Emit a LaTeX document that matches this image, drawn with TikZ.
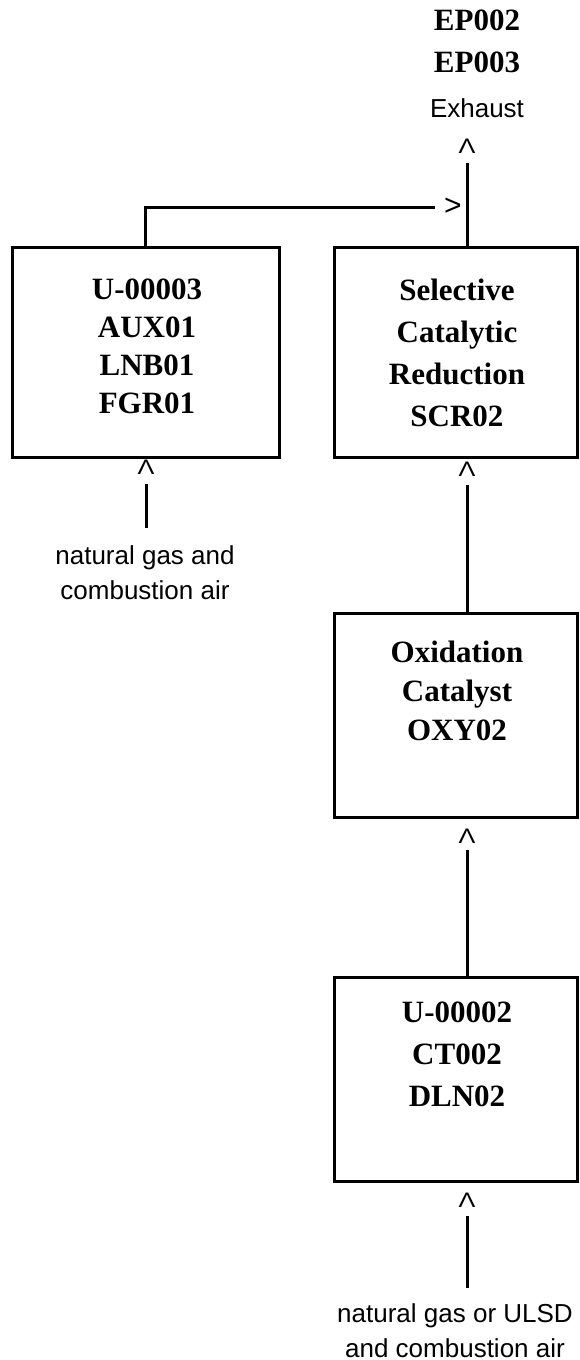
\documentclass[tikz,border=0pt]{standalone}
\usepackage{fontspec}
\setmainfont{Liberation Serif}
\setsansfont{Liberation Sans}
\usepackage{tikz}
\usetikzlibrary{positioning, calc}

\tikzset{
  unitbox/.style={draw, line width=3pt, inner sep=0pt, minimum height=210pt},
  unitlabel/.style={font=\bfseries\fontsize{31}{#1}\selectfont, align=center, anchor=north, inner sep=0pt},
  unitlabel/.default=38,
  feedlabel/.style={font=\sffamily\fontsize{26}{35}\selectfont, align=center, anchor=north, inner sep=0pt},
  tipmark/.style={font=\sffamily\fontsize{21}{21}\selectfont, inner sep=0pt},
  flow/.style={line width=3pt},
}
\newcommand{\uptip}{\scalebox{1.2}[1]{Λ}}

\begin{document}
\begin{tikzpicture}[x=1pt, y=-1pt]
  \useasboundingbox (0,0) rectangle (580,1360);

  % Equipment boxes
  \node[unitbox, minimum width=267pt] (aux) at (145.5,352) {};
  \node[unitbox, minimum width=243pt] (scr) at (455.5,352) {};
  \node[unitbox, minimum width=243pt, minimum height=204pt] (oxy) at (455.5,715) {};
  \node[unitbox, minimum width=243pt, minimum height=204pt] (ct) at (455.5,1079) {};

  % Box texts
  \node[unitlabel] (auxText) at (147,279) {U-00003\\AUX01\\LNB01\\FGR01};
  \node[unitlabel=42] (scrText) at (457,279) {Selective\\Catalytic\\Reduction\\SCR02};
  \node[unitlabel=39] (oxyText) at (457,641) {Oxidation\\Catalyst\\OXY02};
  \node[unitlabel=42] (ctText) at (457,1002) {U-00002\\CT002\\DLN02};

  % Stack and exhaust
  \node[unitlabel=42] (stack) at (477,9.5) {EP002\\EP003};
  \node[feedlabel] (exhaust) at (477,98) {Exhaust};

  % Arrow marks
  \node[tipmark] (tipTop) at (467,146) {\uptip};
  \node[tipmark, font=\sffamily\fontsize{30}{30}\selectfont] (tipJoin) at (453,207) {\textgreater};
  \node[tipmark] (tipAux) at (146,467) {\uptip};
  \node[tipmark] (tipScr) at (467,469) {\uptip};
  \node[tipmark] (tipOxy) at (467,836) {\uptip};
  \node[tipmark] (tipCt) at (467,1200) {\uptip};

  % Fuel feeds
  \node[feedlabel] (feedAux) at (145,545) {natural gas and\\combustion air};
  \node[feedlabel] (feedCt) at (455,1303) {natural gas or ULSD\\and combustion air};

  % Flow lines
  \draw[flow, shorten >=10pt] (scr.north -| tipTop) -- (tipTop.south);
  \draw[flow, shorten >=9pt] (aux.north) |- (tipJoin.west);
  \draw[flow, shorten >=9pt] (oxy.north -| tipScr) -- (tipScr.south);
  \draw[flow, shorten >=7pt] (ct.north -| tipOxy) -- (tipOxy.south);
  \draw[flow, shorten <=17pt, shorten >=10pt] (feedAux.north -| tipAux) -- (tipAux.south);
  \draw[flow, shorten <=15pt, shorten >=9pt] (feedCt.north -| tipCt) -- (tipCt.south);
\end{tikzpicture}
\end{document}
